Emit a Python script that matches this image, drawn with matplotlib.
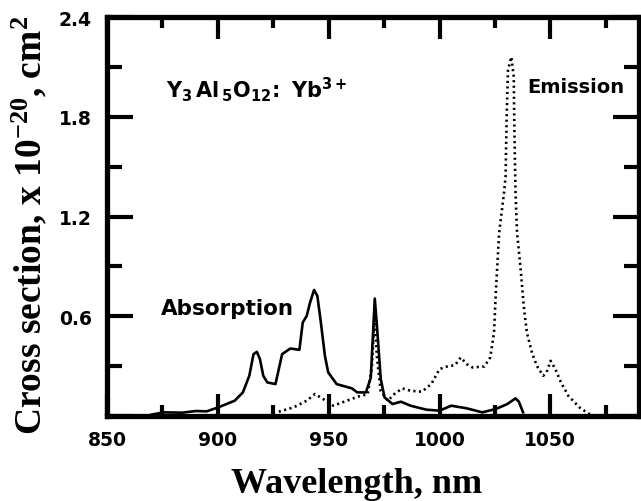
import matplotlib
matplotlib.use("Agg")
import matplotlib.pyplot as plt

# absorption cross section (solid), wavelength in nm, value in 1e-20 cm^2
abs_wl = [870, 875.5, 884, 890, 895, 900.2, 907.6, 911.3, 914.2, 916.1,
          917.6, 919, 920.5, 922.3, 926, 927.5, 929, 932.7, 936.8, 938.3,
          940.1, 941.6, 943.4, 944.9, 946.3, 948.3, 949.8, 953.6, 960.5,
          962.9, 966.8, 969, 970.1, 970.8, 971.9, 973.5, 975.2, 978.8, 982.6,
          986.9, 994.1, 1000, 1005.3, 1012.3, 1019.3, 1025.4, 1030.6, 1034.3,
          1035.8, 1037.7]
abs_cs = [0.008, 0.022, 0.02, 0.03, 0.028, 0.052, 0.092, 0.142, 0.242,
          0.372, 0.386, 0.342, 0.242, 0.202, 0.192, 0.282, 0.372, 0.406,
          0.398, 0.562, 0.602, 0.682, 0.758, 0.722, 0.582, 0.362, 0.262,
          0.192, 0.166, 0.142, 0.142, 0.23, 0.52, 0.706, 0.52, 0.222, 0.112,
          0.072, 0.086, 0.062, 0.038, 0.032, 0.062, 0.046, 0.022, 0.042,
          0.072, 0.106, 0.086, 0.022]

# emission cross section (dotted)
em_wl = [927.5, 934.2, 940.1, 943.8, 947.5, 952.1, 958.2, 964.4, 967.6, 969.5,
         970.6, 971.8, 973.5, 976.7, 979.6, 983.2, 986.9, 992, 996.3, 1000,
         1003.5, 1007, 1009.6, 1012.3, 1014.9, 1020.2, 1022.9, 1024.6,
         1025.4, 1026.9, 1029.1, 1029.8, 1030.3, 1030.9, 1032.4, 1033.5,
         1033.8, 1034.3, 1035, 1036.5, 1038, 1039.4, 1041.7, 1043.9, 1046.8,
         1048.3, 1050.1, 1052.3, 1054.8, 1058.1, 1063.1, 1066.4, 1068.5]
em_cs = [0.026, 0.052, 0.092, 0.132, 0.102, 0.062, 0.092, 0.122, 0.13, 0.3,
         0.58, 0.35, 0.15, 0.092, 0.132, 0.166, 0.152, 0.146, 0.192, 0.282,
         0.298, 0.306, 0.352, 0.312, 0.292, 0.298, 0.352, 0.502, 0.742, 1.10,
         1.342, 1.44, 1.80, 2.08, 2.16, 2.04, 1.70, 1.34, 1.10, 0.90, 0.662,
         0.502, 0.382, 0.302, 0.242, 0.262, 0.332, 0.282, 0.202, 0.122, 0.052,
         0.022, 0.005]

x_major = [850, 900, 950, 1000, 1050]
x_minor = [875, 925, 975, 1025, 1075]
y_major = [0, 0.6, 1.2, 1.8, 2.4]
y_labels = ["", "0.6", "1.2", "1.8", "2.4"]
y_minor = [0.3, 0.9, 1.5, 2.1]

plt.rcParams["mathtext.fontset"] = "custom"
plt.rcParams["mathtext.rm"] = "Liberation Serif:bold"
plt.rcParams["mathtext.sf"] = "DejaVu Sans:bold"
plt.rcParams["mathtext.default"] = "rm"

fig = plt.figure(figsize=(6.41, 5.02), dpi=100)
ax = fig.add_axes([107 / 641, 1 - 417 / 502, 532 / 641, 399 / 502])

ax.plot(abs_wl, abs_cs, color="black", lw=1.9, solid_joinstyle="round")
ax.plot(em_wl, em_cs, color="black", lw=1.9, linestyle=(0, (0.8, 1.3)))

ax.set_xlim(850, 1090)
ax.set_ylim(0, 2.4)

for s in ax.spines.values():
    s.set_linewidth(3.8)

ax.set_xticks(x_major)
ax.set_xticks(x_minor, minor=True)
ax.set_yticks(y_major)
ax.set_yticklabels(y_labels)
ax.set_yticks(y_minor, minor=True)

ax.tick_params(which="both", direction="in", top=True, right=True, width=3)
ax.tick_params(axis="x", which="major", length=16, pad=10)
ax.tick_params(axis="x", which="minor", length=8)
ax.tick_params(axis="y", which="major", length=19, pad=11)
ax.tick_params(axis="y", which="minor", length=11)

sans = {"family": "DejaVu Sans", "weight": "bold"}
for lab in ax.get_xticklabels() + ax.get_yticklabels():
    lab.set_fontfamily("DejaVu Sans")
    lab.set_fontweight("bold")
    lab.set_fontsize(13.5)

ax.text(874.5, 0.612, "Absorption", fontsize=15.5, va="baseline", **sans)
ax.text(1039.5, 1.95, "Emission", fontsize=14, va="baseline", **sans)
ax.text(876.5, 1.92, r"$\mathsf{Y_3\,Al_{\,5}O_{12}\!:\ Yb^{3+}}$",
        fontsize=15, va="baseline")

fig.text(357 / 641, 1 - 493 / 502, "Wavelength, nm", ha="center",
         va="baseline", fontsize=26, family="Liberation Serif", weight="bold")
fig.text(0.046, 0.551, r"Cross section, x 10$^{-20}$, cm$^{2}$",
         rotation=90, ha="center", va="center", fontsize=27,
         family="Liberation Serif", weight="bold")

fig.savefig("out.png", dpi=100)
